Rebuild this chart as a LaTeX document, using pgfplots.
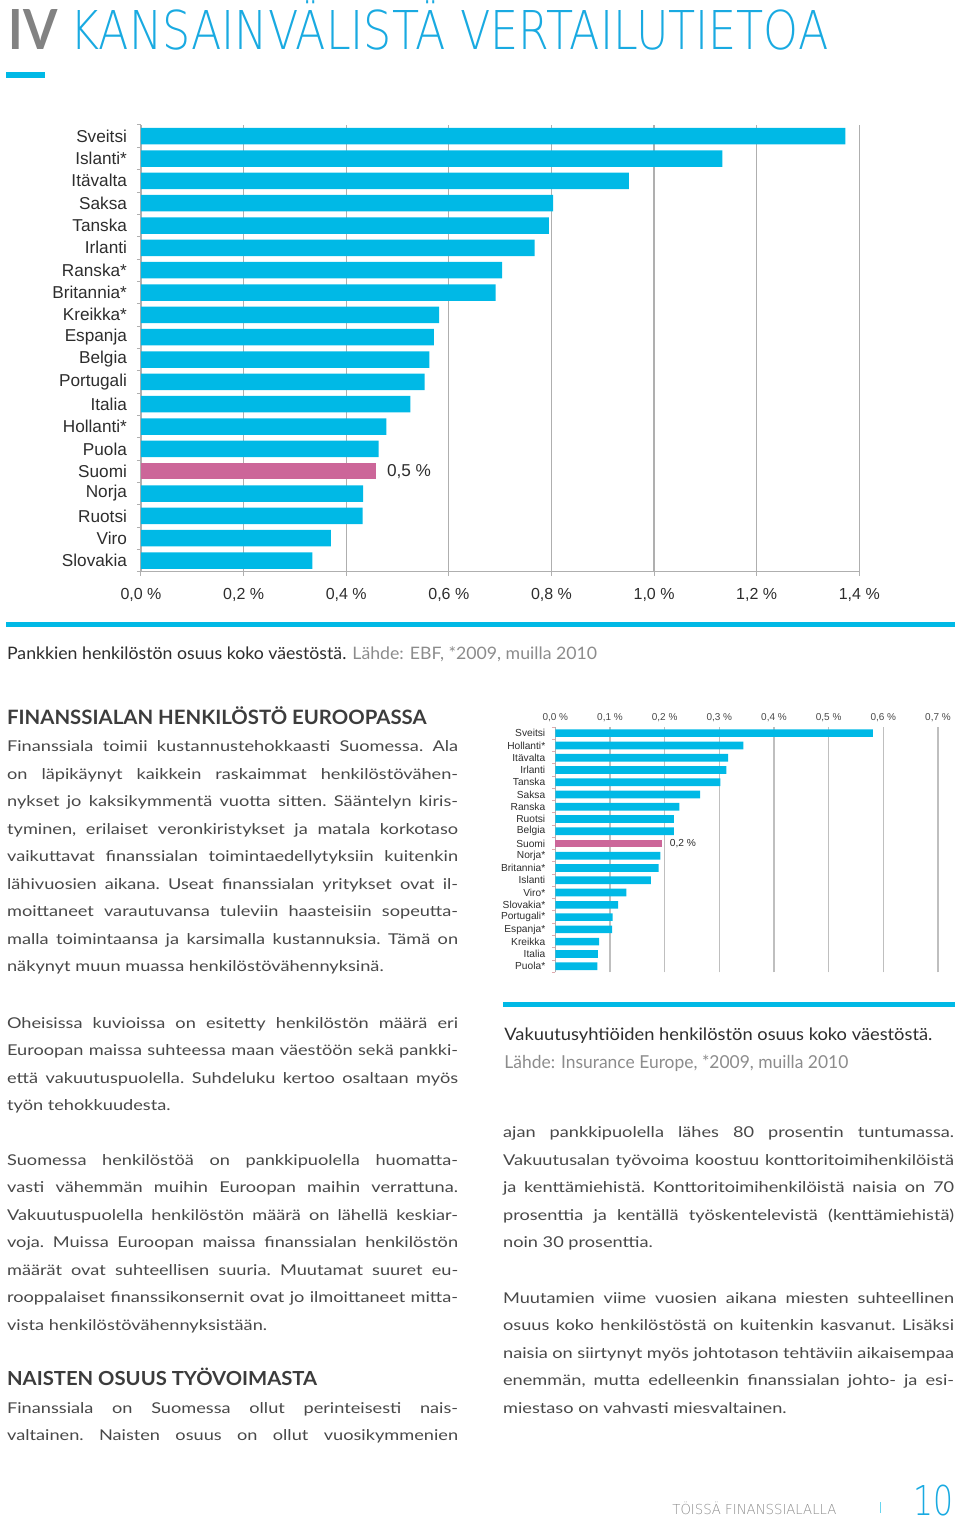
\documentclass[border=0pt]{standalone}
\usepackage{pgfplots}
\pgfplotsset{compat=1.18}
\usepackage{graphicx}
\usepackage{fontspec}
\setmainfont{Lato}
\newfontfamily\arialf{Liberation Sans}
\IfFontExistsTF{DejaVuSans-ExtraLight.ttf}{\newfontfamily\thin{DejaVuSans-ExtraLight.ttf}}{\newfontfamily\thin{Lato}}
\definecolor{cy}{RGB}{0,185,230}
\definecolor{pk}{RGB}{204,102,153}
\definecolor{txt}{RGB}{72,72,72}
\definecolor{dark}{RGB}{45,45,45}
\definecolor{head}{RGB}{60,60,60}
\definecolor{lgray}{RGB}{140,140,140}
\definecolor{ivgray}{RGB}{130,130,130}
\definecolor{titlecy}{RGB}{25,170,225}
\definecolor{gridc}{RGB}{175,175,175}
\definecolor{tickpk}{RGB}{225,170,175}
\newcommand{\fitcaps}[4]{\resizebox{#1}{#2}{#3\rule{0pt}{\fontcharht\font`H}\smash{#4}}}
\newcommand{\J}[1]{\makebox[\linewidth][s]{#1}\par}
\newcommand{\E}[1]{#1\par}
\newcommand{\bodyfmt}{\fontsize{7.45pt}{13.75pt}\selectfont\frenchspacing}
\newcommand{\para}[1]{\scalebox{1.22}[1]{\parbox[t]{184.84pt}{\bodyfmt #1}}}
\newcommand{\labA}{0,5 \%}
\newcommand{\labB}{0,2 \%}
\begin{document}
\begin{tikzpicture}[x=0.5pt,y=-0.5pt]
\path[use as bounding box] (0,0) rectangle (960,1519);
% title
\node[anchor=base west, inner sep=0pt] at (8,50) {\fitcaps{24.5pt}{20pt}{\fontsize{28pt}{28pt}\selectfont\bfseries\color{ivgray}}{IV}};
\node[anchor=base west, inner sep=0pt] at (70,50) {\fitcaps{379pt}{19.5pt}{\thin\fontsize{28pt}{28pt}\selectfont\color{titlecy}}{KANSAINVÄLISTÄ VERTAILUTIETOA}};
\fill[cy] (6,72) rectangle (45,78);
% rules
\fill[cy] (6,621.5) rectangle (955,626.5);
\fill[cy] (503,1002) rectangle (955,1007);
% captions
\node[anchor=base west, inner sep=0pt] at (6.7,659) {\fitcaps{295pt}{6.15pt}{\fontsize{8.5pt}{10pt}\selectfont}{\color{dark}Pankkien henkilöstön osuus koko väestöstä. \color{lgray}Lähde: EBF, *2009, muilla 2010}};
\node[anchor=base west, inner sep=0pt] at (504,1040.7) {\fitcaps{214pt}{6.15pt}{\fontsize{8.5pt}{10pt}\selectfont\color{dark}}{Vakuutusyhtiöiden henkilöstön osuus koko väestöstä.}};
\node[anchor=base west, inner sep=0pt] at (504,1068) {\fitcaps{172pt}{6.4pt}{\fontsize{8.5pt}{10pt}\selectfont\color{lgray}}{Lähde: Insurance Europe, *2009, muilla 2010}};
% headings
\node[anchor=base west, inner sep=0pt, text=head] at (6.7,724.3) {\fitcaps{209.7pt}{7.15pt}{\fontsize{10pt}{10pt}\selectfont\bfseries}{FINANSSIALAN HENKILÖSTÖ EUROOPASSA}};
\node[anchor=base west, inner sep=0pt, text=head] at (6.7,1385.7) {\fitcaps{155pt}{7pt}{\fontsize{10pt}{10pt}\selectfont\bfseries}{NAISTEN OSUUS TYÖVOIMASTA}};
% body text
\node[anchor=base west, inner sep=0pt, text=txt] at (6.7,751.7) {\para{%
\J{Finanssiala toimii kustannustehokkaasti Suomessa. Ala}
\J{on läpikäynyt kaikkein raskaimmat henkilöstövähen-}
\J{nykset jo kaksikymmentä vuotta sitten. Sääntelyn kiris-}
\J{tyminen, erilaiset veronkiristykset ja matala korkotaso}
\J{vaikuttavat finanssialan toimintaedellytyksiin kuitenkin}
\J{lähivuosien aikana. Useat finanssialan yritykset ovat il-}
\J{moittaneet varautuvansa tuleviin haasteisiin sopeutta-}
\J{malla toimintaansa ja karsimalla kustannuksia. Tämä on}
\E{näkynyt muun muassa henkilöstövähennyksinä.}}};
\node[anchor=base west, inner sep=0pt, text=txt] at (6.7,1028.3) {\para{%
\J{Oheisissa kuvioissa on esitetty henkilöstön määrä eri}
\J{Euroopan maissa suhteessa maan väestöön sekä pankki-}
\J{että vakuutuspuolella. Suhdeluku kertoo osaltaan myös}
\E{työn tehokkuudesta.}}};
\node[anchor=base west, inner sep=0pt, text=txt] at (6.7,1165) {\para{%
\J{Suomessa henkilöstöä on pankkipuolella huomatta-}
\J{vasti vähemmän muihin Euroopan maihin verrattuna.}
\J{Vakuutuspuolella henkilöstön määrä on lähellä keskiar-}
\J{voja. Muissa Euroopan maissa finanssialan henkilöstön}
\J{määrät ovat suhteellisen suuria. Muutamat suuret eu-}
\J{rooppalaiset finanssikonsernit ovat jo ilmoittaneet mitta-}
\E{vista henkilöstövähennyksistään.}}};
\node[anchor=base west, inner sep=0pt, text=txt] at (6.7,1413.3) {\para{%
\J{Finanssiala on Suomessa ollut perinteisesti nais-}
\J{valtainen. Naisten osuus on ollut vuosikymmenien}}};
\node[anchor=base west, inner sep=0pt, text=txt] at (502.7,1137.7) {\para{%
\J{ajan pankkipuolella lähes 80 prosentin tuntumassa.}
\J{Vakuutusalan työvoima koostuu konttoritoimihenkilöistä}
\J{ja kenttämiehistä. Konttoritoimihenkilöistä naisia on 70}
\J{prosenttia ja kentällä työskentelevistä (kenttämiehistä)}
\E{noin 30 prosenttia.}}};
\node[anchor=base west, inner sep=0pt, text=txt] at (502.7,1303.3) {\para{%
\J{Muutamien viime vuosien aikana miesten suhteellinen}
\J{osuus koko henkilöstöstä on kuitenkin kasvanut. Lisäksi}
\J{naisia on siirtynyt myös johtotason tehtäviin aikaisempaa}
\J{enemmän, mutta edelleenkin finanssialan johto- ja esi-}
\E{miestaso on vahvasti miesvaltainen.}}};
% footer
\node[anchor=base west, inner sep=0pt] at (672,1514.5) {\fitcaps{82pt}{5pt}{\thin\fontsize{8pt}{8pt}\selectfont\color{lgray}}{TÖISSÄ FINANSSIALALLA}};
\draw[cy!60, line width=0.5pt] (880,1502) -- (880,1513);
\node[anchor=base west, inner sep=0pt] at (913,1515) {\fitcaps{20pt}{15pt}{\thin\fontsize{20pt}{20pt}\selectfont\color{titlecy}}{10}};
% chart 1
\coordinate (c1) at (141,571.7);
\begin{axis}[
  at={(c1)}, anchor=south west, scale only axis,
  width=359.15pt, height=223.35pt,
  xbar, bar width=8.25pt, bar shift=0pt,
  xmin=0, xmax=1.4, ymin=-0.5, ymax=19.5,
  xtick={0,0.2,0.4,0.6,0.8,1.0,1.2,1.4},
  xticklabels={{0,0 \%},{0,2 \%},{0,4 \%},{0,6 \%},{0,8 \%},{1,0 \%},{1,2 \%},{1,4 \%}},
  ytick={0,...,19},
  yticklabels={Slovakia,Viro,Ruotsi,Norja,Suomi,Puola,Hollanti*,Italia,Portugali,Belgia,Espanja,Kreikka*,Britannia*,Ranska*,Irlanti,Tanska,Saksa,Itävalta,Islanti*,Sveitsi},
  minor ytick={-0.5,0.5,...,19.5},
  axis x line*=bottom, axis y line*=left,
  axis line style={gridc, line width=0.6pt},
  xmajorgrids, major grid style={gridc, line width=0.6pt},
  tick align=outside, major tick length=2pt, minor tick length=2pt,
  major y tick style={draw=none},
  minor y tick style={gridc, line width=0.5pt},
  major x tick style={gridc, line width=0.5pt},
  xticklabel style={font=\arialf\fontsize{8pt}{9pt}\selectfont, text=dark, yshift=-3pt},
  yticklabel style={font=\arialf\fontsize{8.6pt}{10pt}\selectfont, text=dark, xshift=-1.5pt},
  clip=false,
]
\addplot[fill=cy, draw=none, bar shift=0pt] coordinates {
 (0.334,0) (0.370,1) (0.432,2) (0.433,3) (0.463,5) (0.478,6) (0.525,7) (0.553,8) (0.562,9) (0.571,10) (0.581,11) (0.691,12) (0.704,13) (0.767,14) (0.795,15) (0.803,16) (0.951,17) (1.133,18) (1.373,19)};
\addplot[fill=pk, draw=none, bar shift=0pt, nodes near coords={\labA},
  every node near coord/.style={font=\arialf\fontsize{8.6pt}{10pt}\selectfont, text=dark, xshift=2pt}] coordinates {(0.458,4)};
\end{axis}
% chart 2
\coordinate (c2) at (555.3,972.3);
\begin{axis}[
  at={(c2)}, anchor=south west, scale only axis,
  width=191.35pt, height=122.65pt,
  xbar, bar width=3.85pt, bar shift=0pt,
  xmin=0, xmax=0.7, ymin=-0.5, ymax=19.5,
  xtick={0,0.1,0.2,0.3,0.4,0.5,0.6,0.7},
  xticklabels={{0,0 \%},{0,1 \%},{0,2 \%},{0,3 \%},{0,4 \%},{0,5 \%},{0,6 \%},{0,7 \%}},
  ytick={0,...,19},
  yticklabels={Puola*,Italia,Kreikka,Espanja*,Portugali*,Slovakia*,Viro*,Islanti,Britannia*,Norja*,Suomi,Belgia,Ruotsi,Ranska,Saksa,Tanska,Irlanti,Itävalta,Hollanti*,Sveitsi},
  minor ytick={-0.5,0.5,...,19.5},
  axis x line*=top, axis y line*=left,
  x axis line style={draw=none},
  y axis line style={gridc, line width=0.5pt},
  xmajorgrids, major grid style={gridc!80, line width=0.7pt},
  tick align=outside, major tick length=1.5pt, minor tick length=1.7pt,
  major y tick style={draw=none},
  major x tick style={draw=none},
  minor y tick style={tickpk, line width=0.5pt},
  xticklabel style={font=\arialf\fontsize{5pt}{6pt}\selectfont, text=txt, yshift=-2.5pt},
  yticklabel style={font=\arialf\fontsize{5.1pt}{6pt}\selectfont, text=dark},
  clip=false,
]
\addplot[fill=cy, draw=none, bar shift=0pt] coordinates {
 (0.077,0) (0.078,1) (0.080,2) (0.104,3) (0.105,4) (0.115,5) (0.130,6) (0.175,7) (0.189,8) (0.192,9) (0.217,11) (0.217,12) (0.227,13) (0.265,14) (0.302,15) (0.313,16) (0.316,17) (0.344,18) (0.581,19)};
\addplot[fill=pk, draw=none, bar shift=0pt, nodes near coords={\labB},
  every node near coord/.style={font=\arialf\fontsize{5.1pt}{6pt}\selectfont, text=dark, xshift=0.5pt}] coordinates {(0.195,10)};
\end{axis}
\end{tikzpicture}
\end{document}
